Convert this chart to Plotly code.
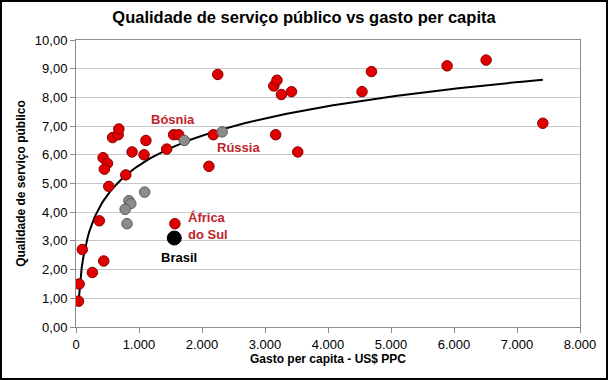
import numpy as np
import plotly.graph_objects as go

# Data
red_x = [40, 50, 100, 260, 370, 440, 520, 430, 500, 450, 580, 670, 680, 890, 790,
         1080, 1110, 1440, 1550, 1630, 1570, 2110, 2180, 2250,
         3140, 3190, 3260, 3420, 3170, 3520, 4540, 4690, 5890, 6510, 7410]
red_y = [0.9, 1.5, 2.7, 1.9, 3.7, 2.3, 4.9, 5.9, 5.7, 5.5, 6.6, 6.7, 6.9, 6.1, 5.3,
         6.0, 6.5, 6.2, 6.7, 6.7, 3.6, 5.6, 6.7, 8.8,
         8.4, 8.6, 8.1, 8.2, 6.7, 6.1, 8.2, 8.9, 9.1, 9.3, 7.1]
gray_x = [1720, 2320, 1090, 840, 870, 780, 810]
gray_y = [6.5, 6.8, 4.7, 4.4, 4.3, 4.1, 3.6]
brasil_x = [1560]
brasil_y = [3.1]

labels = ["Bósnia", "Rússia", "África<br>do Sul", "Brasil"]
label_x = [1533, 2584, 1744, 1637]
label_y = [7.24, 6.24, 3.52, 2.42]
label_colors = ["#C0232B", "#C0232B", "#C0232B", "#000000"]
label_anchor = ["center", "center", "left", "center"]

x_ticks = [0, 1000, 2000, 3000, 4000, 5000, 6000, 7000, 8000]
x_tick_text = ["0", "1.000", "2.000", "3.000", "4.000", "5.000", "6.000", "7.000", "8.000"]
y_ticks = list(range(0, 11))
y_tick_text = [f"{v},00" for v in y_ticks]

# Logarithmic trendline fitted to all points
all_x = np.array(red_x + gray_x + brasil_x, dtype=float)
all_y = np.array(red_y + gray_y + brasil_y, dtype=float)
b, a = np.polyfit(np.log(all_x), all_y, 1)
tx = np.linspace(all_x.min(), all_x.max(), 300)
ty = a + b * np.log(tx)

FONT = "Liberation Sans, Arial, sans-serif"

fig = go.Figure()
fig.add_trace(go.Scatter(x=tx, y=ty, mode="lines", line=dict(color="black", width=2),
                         hoverinfo="skip", showlegend=False))
fig.add_trace(go.Scatter(x=red_x, y=red_y, mode="markers", showlegend=False,
                         marker=dict(size=10.5, color="#E00000", line=dict(color="#8B0000", width=1))))
fig.add_trace(go.Scatter(x=gray_x, y=gray_y, mode="markers", showlegend=False,
                         marker=dict(size=10.5, color="#8C8C8C", line=dict(color="#5A5A5A", width=1))))
fig.add_trace(go.Scatter(x=brasil_x, y=brasil_y, mode="markers", showlegend=False,
                         marker=dict(size=14, color="#000000", line=dict(color="#000000", width=1))))

for t, lx, ly, c, anc in zip(labels, label_x, label_y, label_colors, label_anchor):
    fig.add_annotation(x=lx, y=ly, text=f"<b>{t}</b>", showarrow=False, xanchor=anc,
                       align="left", font=dict(family=FONT, size=13, color=c))

fig.update_layout(
    width=608, height=380,
    margin=dict(l=76, r=28, t=40, b=53, autoexpand=False),
    paper_bgcolor="white", plot_bgcolor="white",
    title=dict(text="<b>Qualidade de serviço público vs gasto per capita</b>",
               x=0.5, xanchor="center", y=0.955, yanchor="middle",
               font=dict(family=FONT, size=16.5, color="black")),
    font=dict(family=FONT, size=13, color="black"),
    xaxis=dict(range=[0, 8000], tickvals=x_ticks, ticktext=x_tick_text, automargin=False,
               showgrid=False, zeroline=False, showline=True, linecolor="#8C8C8C",
               linewidth=1, mirror=True, ticks="outside", ticklen=5, tickcolor="#8C8C8C",
               tickfont=dict(family=FONT, size=13, color="black"),
               title=dict(text="<b>Gasto per capita - US$ PPC</b>", standoff=2,
                          font=dict(family=FONT, size=12, color="black"))),
    yaxis=dict(range=[0, 10], tickvals=y_ticks, ticktext=y_tick_text, automargin=False,
               showgrid=True, gridcolor="#C8C8C8", gridwidth=1, zeroline=False,
               showline=True, linecolor="#8C8C8C", linewidth=1, mirror=True,
               ticks="outside", ticklen=5, tickcolor="#8C8C8C",
               tickfont=dict(family=FONT, size=13, color="black"),
               title=dict(text="<b>Qualidade de serviço público</b>", standoff=6,
                          font=dict(family=FONT, size=12, color="black"))),
)

# Outer black frame of the whole picture
fig.add_shape(type="rect", xref="paper", yref="paper",
              x0=(1 - 76) / 504, x1=(607 - 76) / 504,
              y0=(327 - 379) / 287, y1=(327 - 1) / 287,
              line=dict(color="black", width=2), fillcolor="rgba(0,0,0,0)")

fig.write_html("out.html", config={"displayModeBar": False},
               post_script="document.body.style.margin='0px';")
